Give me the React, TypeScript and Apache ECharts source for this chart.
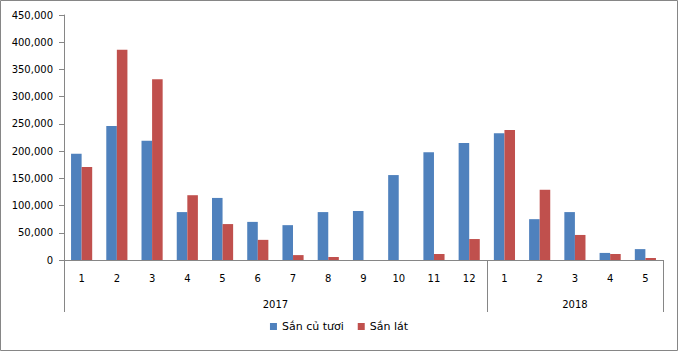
import React, { useEffect, useRef } from "react";
import * as echarts from "echarts";

const months = ["1", "2", "3", "4", "5", "6", "7", "8", "9", "10", "11", "12", "1", "2", "3", "4", "5"];
const years = ["2017", "2018"];
const yearSpans = [12, 5];
const sanCuTuoi = [195000, 246000, 219000, 88000, 114000, 70000, 64000, 88000, 90000, 156000, 198000, 215000, 233000, 75000, 88000, 13000, 20000];
const sanLat = [171000, 386000, 332000, 119000, 66000, 37000, 9000, 5500, 0, 0, 11000, 38500, 239000, 129000, 46000, 11000, 3700];
const seriesNames = ["Sắn củ tươi", "Sắn lát"];

export default function App() {
  const ref = useRef<HTMLDivElement>(null);
  useEffect(() => {
    document.body.style.margin = "0";
    if (!ref.current) return;
    const chart = echarts.init(ref.current, null, { renderer: "svg" });
    const total = yearSpans.reduce((a, b) => a + b, 0);
    const bounds: number[] = [0];
    const centers: number[] = [];
    let acc = 0;
    yearSpans.forEach((s) => {
      centers.push(acc + s / 2);
      acc += s;
      bounds.push(acc);
    });
    const font = "DejaVu Sans";
    const gray = "#868686";
    chart.setOption({
      animation: false,
      textStyle: { fontFamily: font },
      grid: { left: 64, right: 15, top: 15, bottom: 91 },
      legend: {
        bottom: 14,
        left: "center",
        itemWidth: 7,
        itemHeight: 7,
        itemGap: 14,
        icon: "rect",
        textStyle: { fontFamily: font, fontSize: 11, color: "#000" },
        data: seriesNames,
      },
      xAxis: [
        {
          type: "category",
          data: months,
          axisLine: { lineStyle: { color: gray } },
          axisTick: { length: 27, interval: 0, lineStyle: { color: gray } },
          axisLabel: { interval: 0, margin: 13, fontSize: 10, color: "#000", fontFamily: font },
        },
        {
          type: "value",
          min: 0,
          max: total,
          position: "bottom",
          axisLine: { show: false },
          splitLine: { show: false },
          axisTick: { show: true, length: 52, customValues: bounds, lineStyle: { color: gray } },
          axisLabel: {
            customValues: centers,
            margin: 39,
            fontSize: 10,
            color: "#000",
            fontFamily: font,
            formatter: (v: number) => {
              const i = centers.indexOf(v);
              return i >= 0 ? years[i] : "";
            },
          },
        },
      ],
      yAxis: {
        type: "value",
        min: 0,
        max: 450000,
        interval: 50000,
        axisLine: { show: true, lineStyle: { color: gray } },
        axisTick: { show: true, length: 5, lineStyle: { color: gray } },
        splitLine: { show: false },
        axisLabel: {
          margin: 11,
          fontSize: 10,
          color: "#000",
          fontFamily: font,
          formatter: (v: number) => v.toLocaleString("en-US"),
        },
      },
      series: [
        {
          name: seriesNames[0],
          type: "bar",
          data: sanCuTuoi,
          barWidth: "30%",
          barGap: "0%",
          itemStyle: { color: "#4F81BD" },
        },
        {
          name: seriesNames[1],
          type: "bar",
          data: sanLat,
          barWidth: "30%",
          barGap: "0%",
          itemStyle: { color: "#C0504D" },
        },
      ],
      graphic: [
        {
          type: "rect",
          shape: { x: 0.5, y: 0.5, width: 677, height: 350 },
          style: { fill: "none", stroke: gray, lineWidth: 1 },
          silent: true,
        },
      ],
    });
    return () => chart.dispose();
  }, []);
  return <div ref={ref} style={{ width: 678, height: 351 }} />;
}
